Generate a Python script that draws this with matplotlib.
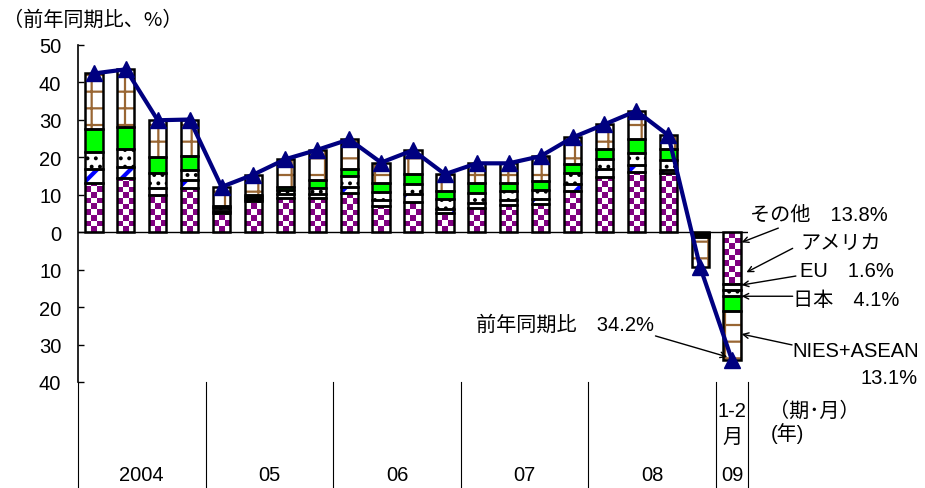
import numpy as np
import matplotlib
matplotlib.use('Agg')
import matplotlib.pyplot as plt
from matplotlib.colors import ListedColormap

plt.rcParams['font.family'] = ['Liberation Sans', 'Noto Sans CJK JP']
plt.rcParams['hatch.linewidth'] = 1.6

# 2004 1Q ... 2008 4Q, 2009 1-2月
years = ['2004', '05', '06', '07', '08', '09']
year_bars = [4, 4, 4, 4, 4, 1]

yoy = [42.4, 43.5, 29.9, 30.1, 12.1, 15.4, 19.5, 22.0, 24.8, 18.6, 21.9,
       15.5, 18.4, 18.4, 20.3, 25.3, 28.8, 32.4, 25.9, -9.3, -34.2]
sonota = [13.1, 14.6, 9.9, 11.9, 5.2, 8.4, 9.2, 9.2, 10.4, 7.0, 8.1,
          5.2, 6.6, 7.2, 7.5, 11.0, 14.8, 16.1, 15.7, -0.3, -13.8]
usa = [3.9, 2.9, 2.0, 2.0, 0.5, 0.5, 0.9, 0.9, 1.8, 1.6, 2.0,
       1.1, 1.2, 1.4, 1.3, 1.8, 2.0, 1.8, 0.9, -0.2, -1.6]
eu = [4.4, 4.6, 4.0, 2.8, 0.7, 0.6, 1.1, 1.8, 2.8, 2.1, 2.7,
      2.7, 2.7, 2.4, 2.5, 3.1, 2.8, 3.2, 2.8, -0.3, -1.6]
japan = [6.2, 5.9, 4.2, 3.6, 0.6, 0.4, 0.9, 2.0, 2.0, 2.5, 2.7,
         2.0, 2.6, 2.2, 2.4, 2.2, 2.5, 3.7, 2.7, -0.5, -4.1]
nies = [14.8, 15.5, 9.8, 9.8, 5.1, 5.5, 7.4, 8.1, 7.8, 5.4, 6.4,
        4.5, 5.3, 5.2, 6.6, 7.2, 6.7, 7.6, 3.8, -8.0, -13.1]

purple = '#800080'
# (style, hatch line width)
styles = [
    (None, 1.6),  # checker, drawn with images
    (dict(facecolor='white', edgecolor='#0000ff', hatch='/'), 3.0),
    (dict(facecolor='white', edgecolor='black', hatch='..'), 1.6),
    (dict(facecolor='#00ff00', edgecolor='#00ff00'), 1.6),
    (dict(facecolor='white', edgecolor='#996633', hatch='+'), 1.6),
]
series = [sonota, usa, eu, japan, nies]

fs = 14.5
fig = plt.figure(figsize=(9.25, 4.89), dpi=100)
ax = fig.add_axes([78 / 925, 1 - 383 / 489, 670 / 925, 337 / 489])

x = np.arange(len(yoy))
w = 0.54
bottom = np.zeros(len(yoy))
checker_cmap = ListedColormap(['white', purple])
for vals, (st, hlw) in zip(series, styles):
    vals = np.array(vals)
    plt.rcParams['hatch.linewidth'] = hlw
    if st is None:
        bars = ax.bar(x, vals, w, bottom=bottom, facecolor='white',
                      linewidth=0, zorder=1)
        cell_h = 1.5
        for i, rect in enumerate(bars.patches):
            h = vals[i]
            nrows = int(np.ceil(abs(h) / cell_h)) + 1
            arr = np.add.outer(np.arange(nrows), np.arange(3)) % 2
            x0 = x[i] - w / 2
            if h >= 0:
                ext = (x0, x0 + w, bottom[i], bottom[i] + nrows * cell_h)
                origin = 'lower'
            else:
                ext = (x0, x0 + w, bottom[i] - nrows * cell_h, bottom[i])
                origin = 'upper'
            im = ax.imshow(arr, cmap=checker_cmap, extent=ext, origin=origin,
                           interpolation='nearest', aspect='auto', zorder=1.5,
                           vmin=0, vmax=1)
            im.set_clip_path(rect)
    else:
        ax.bar(x, vals, w, bottom=bottom, linewidth=0, zorder=1, **st)
    ax.bar(x, vals, w, bottom=bottom, fill=False, edgecolor='black',
           linewidth=1.8, zorder=3)
    bottom = bottom + vals
plt.rcParams['hatch.linewidth'] = 1.6

ax.plot(x, yoy, color='#000080', lw=3, marker='^', markersize=11, zorder=5,
        clip_on=False)

ax.axhline(0, color='black', lw=1, zorder=4)
ax.set_xlim(-0.5, 20.5)
ax.set_ylim(-40, 50)
ticks = list(range(-40, 51, 10))
ax.set_yticks(ticks)
ax.set_yticklabels([str(abs(t)) for t in ticks])
ax.set_xticks([])
ax.tick_params(axis='y', direction='in', length=4, width=1, pad=12, labelsize=fs)
for s in ['top', 'right', 'bottom']:
    ax.spines[s].set_visible(False)
ax.spines['left'].set_linewidth(1.2)

# category area below the axes
tr = ax.get_xaxis_transform()
edges = -0.5 + np.concatenate([[0], np.cumsum(year_bars)])
for e in edges:
    ax.plot([e, e], [0, -0.32], color='black', lw=0.8, transform=tr,
            clip_on=False)
for i, y in enumerate(years):
    mid = (edges[i] + edges[i + 1]) / 2
    ax.text(mid, -0.273, y, transform=tr, ha='center', va='center', fontsize=fs)
ax.text(20, -0.086, '1-2', transform=tr, ha='center', va='center', fontsize=fs)
ax.text(20, -0.16, '月', transform=tr, ha='center', va='center', fontsize=fs)
ax.text(21.15, -0.083, '（期･月）', transform=tr, ha='left', va='center',
        fontsize=fs, family=['Noto Sans CJK JP'])
ax.text(21.2, -0.15, '(年)', transform=tr, ha='left', va='center', fontsize=fs)

fig.text(0.003, 1 - 20 / 489, '（前年同期比、%）', ha='left', va='center',
         fontsize=fs, family=['Noto Sans CJK JP'])

# annotations for the 2009 bar
arrow = dict(arrowstyle='->', color='black', lw=1, shrinkA=0, shrinkB=0)
labels = [
    ('その他　13.8%', (20.57, 4.8), (21.45, 1.1), (20.3, -2.7)),
    ('アメリカ', (22.13, -2.7), (21.9, -4.3), (20.45, -10.7)),
    ('EU　1.6%', (22.13, -10.3), (22.0, -11.7), (20.3, -14.1)),
    ('日本　4.1%', (21.9, -17.9), (21.9, -17.1), (20.3, -17.1)),
    ('NIES+ASEAN', (21.9, -31.7), (21.88, -30.1), (20.3, -27.2)),
    ('前年同期比　34.2%', (11.98, -24.5), (17.6, -27.7), (19.85, -33.3)),
]
for txt, tpos, start, end in labels:
    ax.text(tpos[0], tpos[1], txt, ha='left', va='center', fontsize=fs,
            clip_on=False)
    ax.annotate('', xy=end, xytext=start, arrowprops=arrow,
                annotation_clip=False)
ax.text(25.83, -38.7, '13.1%', ha='right', va='center', fontsize=fs,
        clip_on=False)

fig.savefig('out.png', dpi=100)
